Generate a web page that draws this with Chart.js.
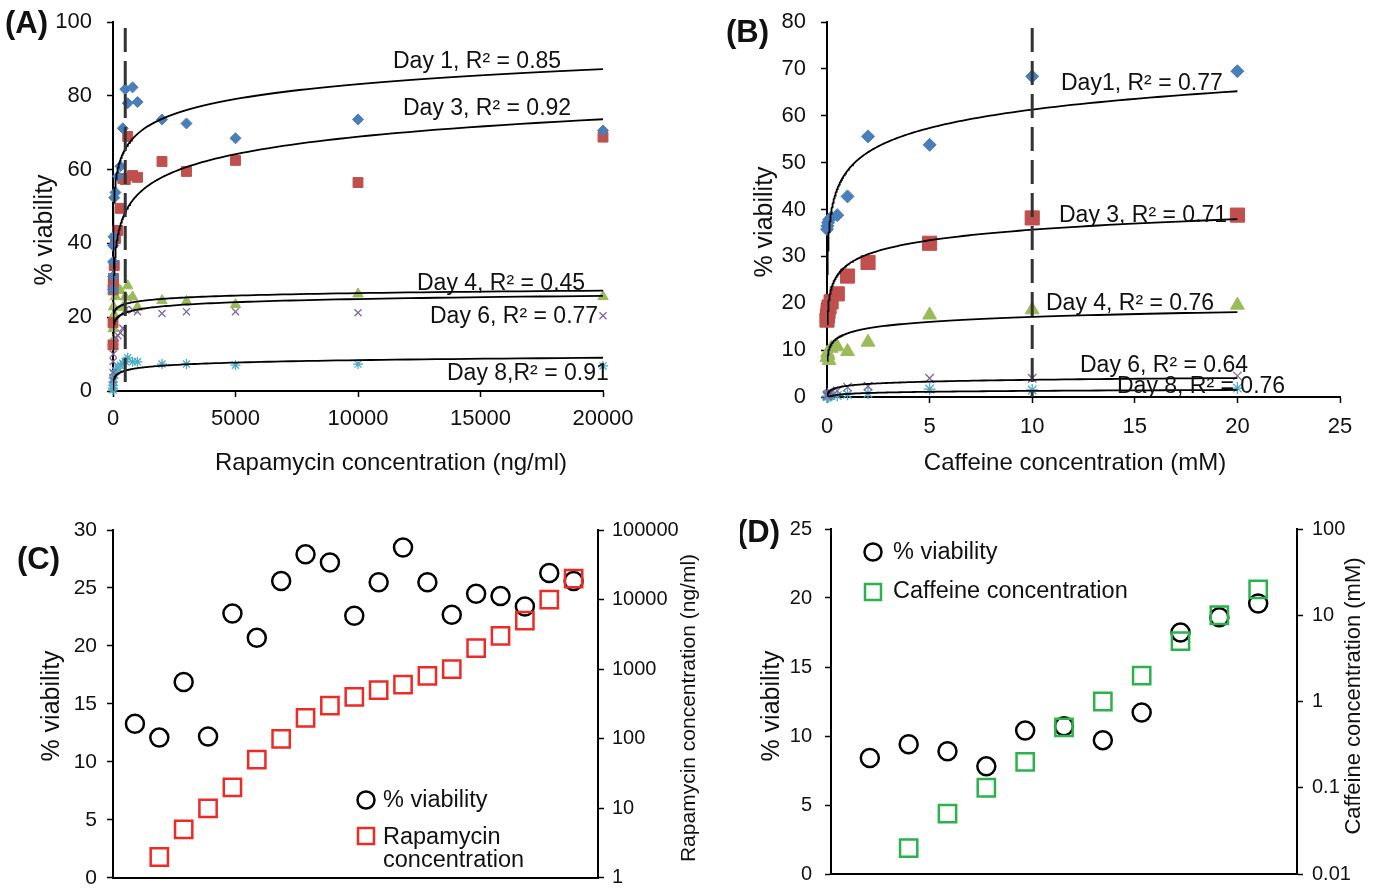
<!DOCTYPE html>
<html><head><meta charset="utf-8">
<script src="https://cdn.jsdelivr.net/npm/chart.js@4.4.0/dist/chart.umd.min.js"></script>
<style>
html,body{margin:0;padding:0;background:#fff;}
body{width:1380px;height:889px;position:relative;overflow:hidden;}
canvas{position:absolute;}
</style></head>
<body>
<canvas id="cA" width="700" height="480" style="left:0;top:0"></canvas>
<canvas id="cB" width="680" height="480" style="left:700px;top:0"></canvas>
<canvas id="cC" width="740" height="399" style="left:0;top:490px"></canvas>
<canvas id="cD" width="640" height="399" style="left:740px;top:490px"></canvas>
<script>
// ---------- DATA ----------
// Panel A: rapamycin (ng/ml) vs % viability
const rapConc = [0,2,5,10,20,50,100,200,300,400,500,600,800,1000,2000,3000,5000,10000,20000];
const rapDay1 = [27.5,31,35,39.4,41.8,52.4,53.8,58.2,60.9,71.2,81.8,78,82.3,78.3,73.6,72.5,68.5,73.6,70.6];
const rapDay3 = [12.5,18.5,27.4,29.3,30.5,34,41.3,43.5,49.5,57.6,57.3,69,58.4,57.9,62.2,59.5,62.5,56.5,68.8];
const rapDay4 = [13.3,12.1,16.9,12.2,22.8,20.7,25.6,27.9,27.2,22.6,25.5,28.5,25.5,22.7,24.5,24.3,23.4,26.3,25.6];
const rapDay6 = [3,5,8,10,12,13.5,14.5,15,15.8,17,22,25.3,22,21.5,21,21.5,21.5,21.2,20.4];
const rapDay8 = [0.3,0.8,1.5,2.5,3.5,4.5,5.5,6.2,7,7.5,8,9,7.9,7.9,7.3,7.3,7,7.3,6.8];
const rapFitSlope = [5.86,6.83,0.98,1.24,0.94];
const rapFitIntercept = [29.2,6.0,17.5,13.5,-0.3];
const rapFitLabels = ["Day 1, R² = 0.85","Day 3, R² = 0.92","Day 4, R² = 0.45","Day 6, R² = 0.77","Day 8,R² = 0.91"];
const rapXTicks = [0,5000,10000,15000,20000];
const rapThreshold = 500;

// Panel B: caffeine (mM) vs % viability
const cafConc = [0,0.02,0.05,0.1,0.2,0.5,1,2,5,10,20];
const cafDay1 = [35.8,36.5,37.2,37.8,38.3,38.8,42.8,55.6,53.8,68.4,69.5];
const cafDay3 = [16.4,17.3,18.2,19.2,20.3,22.0,25.8,28.7,32.8,38.2,38.8];
const cafDay4 = [8.4,9.4,8.9,7.8,10.4,10.7,9.7,11.7,17.5,18.6,19.6];
const cafDay6 = [0.3,0.4,0.5,0.7,0.9,1.3,2.1,2.3,4.0,4.0,4.5];
const cafDay8 = [0.1,0.1,0.2,0.2,0.3,0.3,0.6,0.8,1.7,1.5,1.9];
const cafFitSlope = [5.65,3.25,1.51,0.55,0.28];
const cafFitIntercept = [48.3,28.2,13.6,2.4,0.66];
const cafFitLabels = ["Day1, R² = 0.77","Day 3, R² = 0.71","Day 4, R² = 0.76","Day 6, R² = 0.64","Day 8, R² = 0.76"];
const cafThreshold = 10;

// Panels C/D: Day 4 viability with concentration on log axis
const logTicksC = [1,10,100,1000,10000,100000];
const logTicksD = [0.01,0.1,1,10,100];

// ---------- STYLE ----------
const FONT = "'Liberation Sans', Arial, Helvetica, sans-serif";
const dayColors = ['#4a7ebb','#c0504d','#9bbb59','#8064a2','#4bacc6'];
const dayStyles = ['rectRot','rect','triangle','crossRot','star'];

function tickOpts(fs, pad, extra, lh){
  const font = {family:FONT, size:fs};
  if(lh !== undefined) font.lineHeight = lh;
  return Object.assign({color:'#111', font, padding:pad, maxRotation:0, autoSkip:false}, extra||{});
}
function axis(fs, pad, tickExtra, extra, lh){
  return Object.assign({
    display:true,
    grid:{display:true, drawOnChartArea:false, drawTicks:true, tickLength:6, tickColor:'#000', tickWidth:1.5, color:'#000'},
    border:{display:true, color:'#000', width:2},
    ticks:tickOpts(fs, pad, tickExtra, lh)
  }, extra||{});
}

function logSamples(lo, hi, n){ const out=[]; for(let k=0;k<=n;k++) out.push(lo*Math.pow(hi/lo,k/n)); return out; }

function textPlugin(offX, offY, items, extra){
  return { id:'txt', afterDraw(chart){
    const ctx = chart.ctx; ctx.save();
    ctx.translate(-offX, -offY);
    for(const t of items){
      ctx.save();
      ctx.font = t.font; ctx.fillStyle = t.color||'#111';
      ctx.textAlign = t.align||'left'; ctx.textBaseline = t.base||'alphabetic';
      ctx.translate(t.x, t.y);
      if(t.rot) ctx.rotate(t.rot);
      ctx.fillText(t.text, 0, 0);
      ctx.restore();
    }
    if(extra) extra(ctx);
    ctx.restore();
  }};
}

function scatterSets(xs, series, radii){
  return series.map((vals,i)=>({
    type:'scatter',
    data: xs.map((c,j)=>({x:c,y:vals[j]})),
    pointStyle: dayStyles[i], pointRadius: radii[i],
    pointBackgroundColor: dayColors[i], pointBorderColor: dayColors[i],
    pointBorderWidth: (i>=3)?1.3:1, clip:false, order:2
  }));
}
function fitSets(lo, hi, slopes, intercepts){
  const xs = logSamples(lo, hi, 200);
  return slopes.map((a,i)=>({
    type:'line',
    data: xs.map(x=>({x, y: a*Math.log(x)+intercepts[i]})),
    borderColor:'#000', borderWidth:1.8, pointRadius:0, fill:false, tension:0, order:1
  }));
}
function dashSet(x, top){
  return {type:'line', data:[{x, y:top},{x, y:0}], borderColor:'#333', borderWidth:3,
    borderDash:[24,9], pointRadius:0, order:0};
}

const base = {responsive:false, animation:false, events:[],
  plugins:{legend:{display:false}, tooltip:{enabled:false}}};

const T = 23, TT = 24, TR = 25, TB = `bold 31px ${FONT}`;

// ---------- PANEL A ----------
new Chart(document.getElementById('cA'), {
  type:'scatter',
  data:{datasets:[
    ...scatterSets(rapConc,[rapDay1,rapDay3,rapDay4,rapDay6,rapDay8],[5.5,7,6,5,5]),
    ...fitSets(2,20000,rapFitSlope,rapFitIntercept),
    dashSet(rapThreshold, 98.4)
  ]},
  options:Object.assign({}, base, {
    layout:{autoPadding:false, padding:{top:22,right:97,left:0,bottom:0}},
    scales:{
      x:axis(22, 9, {callback:v=>String(v)}, {type:'linear', min:0, max:20000,
        afterBuildTicks:s=>{s.ticks = rapXTicks.map(v=>({value:v}));},
        afterFit:s=>{s.height=89;}}),
      y:axis(22, 15, {stepSize:20}, {type:'linear', min:0, max:100,
        afterFit:s=>{s.width=113;}}, 0.2)
    }
  }),
  plugins:[textPlugin(0,0,[
    {text:'(A)', x:5, y:24, base:'middle', font:TB},
    {text:rapFitLabels[0], x:393, y:68, font:`${T}px ${FONT}`},
    {text:rapFitLabels[1], x:403, y:115, font:`${T}px ${FONT}`},
    {text:rapFitLabels[2], x:417, y:290, font:`${T}px ${FONT}`},
    {text:rapFitLabels[3], x:430, y:323, font:`${T}px ${FONT}`},
    {text:rapFitLabels[4], x:447, y:380, font:`${T}px ${FONT}`},
    {text:'% viability', x:45, y:230, rot:-Math.PI/2, align:'center', base:'middle', font:`${TR}px ${FONT}`},
    {text:'Rapamycin concentration (ng/ml)', x:391, y:463, align:'center', base:'middle', font:`${TT}px ${FONT}`}
  ])]
});

// ---------- PANEL B ----------
new Chart(document.getElementById('cB'), {
  type:'scatter',
  data:{datasets:[
    ...scatterSets(cafConc,[cafDay1,cafDay3,cafDay4,cafDay6,cafDay8],[6.5,10,8,6,6]),
    ...fitSets(0.02,20,cafFitSlope,cafFitIntercept),
    dashSet(cafThreshold, 78.7)
  ]},
  options:Object.assign({}, base, {
    layout:{autoPadding:false, padding:{top:22,right:40,left:0,bottom:0}},
    scales:{
      x:axis(22, 11, {stepSize:5}, {type:'linear', min:0, max:25,
        afterFit:s=>{s.height=83;}}),
      y:axis(22, 15, {stepSize:10}, {type:'linear', min:0, max:80,
        afterFit:s=>{s.width=127;}}, 0.2)
    }
  }),
  plugins:[textPlugin(700,0,[
    {text:'(B)', x:726, y:33, base:'middle', font:TB},
    {text:cafFitLabels[0], x:1061, y:90, font:`${T}px ${FONT}`},
    {text:cafFitLabels[1], x:1059, y:222, font:`${T}px ${FONT}`},
    {text:cafFitLabels[2], x:1046, y:310, font:`${T}px ${FONT}`},
    {text:cafFitLabels[3], x:1080, y:372, font:`${T}px ${FONT}`},
    {text:cafFitLabels[4], x:1117, y:393, font:`${T}px ${FONT}`},
    {text:'% viability', x:765, y:222, rot:-Math.PI/2, align:'center', base:'middle', font:`${TR}px ${FONT}`},
    {text:'Caffeine concentration (mM)', x:1075, y:463, align:'center', base:'middle', font:`${TT}px ${FONT}`}
  ])]
});

// ---------- PANEL C / D ----------
function dualChart(id, offX, offY, conc, viab, sqColor, xmin, xmax, logTicks, geo, texts, legendItems){
  const circles = viab.map((v,i)=>({x:i+1, y:v}));
  const squares = conc.map((c,i)=>({x:i+1, y:c})).filter(p=>p.y>0);
  const legend = ctx=>{
    ctx.lineWidth = 2.5;
    for(const L of legendItems){
      ctx.beginPath();
      if(L.shape==='circle'){ ctx.strokeStyle='#000'; ctx.arc(L.x, L.y, 8.5, 0, Math.PI*2); ctx.stroke(); }
      else { ctx.strokeStyle=sqColor; ctx.strokeRect(L.x-8, L.y-8, 16, 16); }
    }
  };
  return new Chart(document.getElementById(id), {
    type:'scatter',
    data:{datasets:[
      {data:squares, yAxisID:'y2', pointStyle:'rect', pointRadius:12.2, pointBorderWidth:2.5,
       pointBorderColor:sqColor, pointBackgroundColor:'rgba(0,0,0,0)', clip:false},
      {data:circles, yAxisID:'y', pointStyle:'circle', pointRadius:9, pointBorderWidth:2.5,
       pointBorderColor:'#000', pointBackgroundColor:'rgba(0,0,0,0)', clip:false}
    ]},
    options:Object.assign({}, base, {
      layout:{autoPadding:false, padding:{top:geo.top,right:0,left:0,bottom:0}},
      scales:{
        x:{type:'linear', min:xmin, max:xmax, display:true,
           grid:{display:false}, ticks:{display:false},
           border:{display:true, color:'#000', width:2},
           afterFit:s=>{s.height=geo.xh;}},
        y:axis(geo.fsL, geo.lpad, {stepSize:5}, {type:'linear', position:'left', min:0, max:geo.ymax,
           afterFit:s=>{s.width=geo.lw;}}, 0.1),
        y2:axis(geo.fsR, geo.rpad, {callback:v=>String(v)}, {type:'logarithmic', position:'right',
           min:logTicks[0], max:logTicks[logTicks.length-1],
           afterBuildTicks:s=>{s.ticks = logTicks.map(v=>({value:v}));},
           afterFit:s=>{s.width=geo.rw;}}, 0.1)
      }
    }),
    plugins:[textPlugin(offX, offY, texts, legend)]
  });
}

dualChart('cC', 0, 490, rapConc, rapDay4, '#ee2a24', 0.1, 20, logTicksC,
  {top:40, xh:9, lw:113, rw:142, ymax:30, lpad:10, rpad:8, fsL:21, fsR:20},
  [
    {text:'(C)', x:17, y:560, base:'middle', font:TB},
    {text:'% viability', x:52, y:706, rot:-Math.PI/2, align:'center', base:'middle', font:`${TR}px ${FONT}`},
    {text:'Rapamycin concentration (ng/ml)', x:689, y:708, rot:-Math.PI/2, align:'center', base:'middle', font:`21px ${FONT}`},
    {text:'% viability', x:383, y:801, base:'middle', font:`23.5px ${FONT}`},
    {text:'Rapamycin', x:383, y:838, base:'middle', font:`23.5px ${FONT}`},
    {text:'concentration', x:383, y:861, base:'middle', font:`23.5px ${FONT}`}
  ],
  [{shape:'circle', x:366, y:800},{shape:'square', x:366, y:836}]
);

dualChart('cD', 740, 490, cafConc, cafDay4, '#2bb24c', 0, 12, logTicksD,
  {top:39, xh:15, lw:91, rw:83, ymax:25, lpad:13, rpad:9, fsL:20, fsR:20},
  [
    {text:'(D)', x:737, y:533, base:'middle', font:TB},
    {text:'% viability', x:772, y:706, rot:-Math.PI/2, align:'center', base:'middle', font:`${TR}px ${FONT}`},
    {text:'Caffeine concentration (mM)', x:1354, y:696, rot:-Math.PI/2, align:'center', base:'middle', font:`22px ${FONT}`},
    {text:'% viability', x:893, y:553, base:'middle', font:`23.5px ${FONT}`},
    {text:'Caffeine concentration', x:893, y:592, base:'middle', font:`23.5px ${FONT}`}
  ],
  [{shape:'circle', x:873, y:552},{shape:'square', x:873, y:592}]
);
</script>
</body></html>
